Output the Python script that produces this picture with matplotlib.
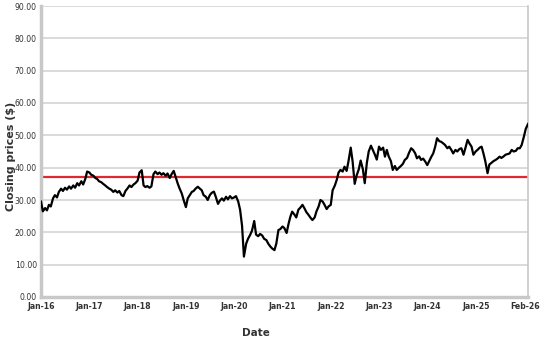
import matplotlib
matplotlib.use("Agg")
import matplotlib.pyplot as plt
from matplotlib.transforms import ScaledTranslation
import pandas as pd

# Semi-monthly closing prices (1st and 15th of each month)
y2016 = [29.5, 26.5, 27.5, 26.8, 28.5, 28.0, 30.5, 31.5, 30.8, 32.5, 33.5, 32.8,
         33.8, 33.2, 34.2, 33.5, 34.5, 33.8, 35.2, 34.5, 35.8, 34.8, 36.5, 38.8]
y2017 = [38.5, 37.8, 37.5, 36.8, 36.5, 35.8, 35.5, 35.0, 34.5, 34.0, 33.5, 33.2,
         32.5, 33.0, 32.3, 32.8, 31.5, 31.2, 32.8, 33.5, 34.5, 34.0, 34.8, 35.2]
y2018 = [36.0, 38.5, 39.2, 34.5, 34.0, 34.3, 33.8, 34.2, 38.0, 38.8, 38.0, 38.5,
         37.8, 38.3, 37.5, 38.2, 36.8, 38.0, 39.0, 37.2, 35.0, 33.5, 32.0, 30.0]
y2019 = [27.8, 30.5, 31.6, 32.5, 32.8, 33.5, 34.1, 33.6, 33.0, 31.5, 31.0, 30.0,
         31.5, 32.2, 32.6, 31.0, 28.8, 29.8, 30.5, 29.8, 31.0, 30.2, 31.2, 30.5]
y2020 = [30.8, 31.2, 29.5, 27.0, 22.0, 12.5, 16.5, 18.0, 19.2, 20.5, 23.5, 19.3,
         18.8, 19.5, 19.0, 18.0, 17.6, 16.5, 15.6, 15.0, 14.5, 16.5, 20.7, 21.0]
y2021 = [21.8, 21.3, 19.8, 22.5, 24.8, 26.4, 25.5, 24.6, 27.0, 27.6, 28.5, 27.5,
         26.2, 25.5, 24.5, 23.8, 24.6, 26.5, 28.0, 30.0, 29.5, 28.5, 27.2, 28.0]
y2022 = [28.5, 33.0, 34.5, 36.2, 38.5, 39.3, 38.8, 40.3, 39.0, 42.0, 46.2, 42.0,
         35.0, 37.5, 39.5, 42.2, 39.5, 35.2, 41.5, 45.0, 46.8, 45.5, 44.0, 42.5]
y2023 = [46.5, 45.5, 46.2, 43.4, 45.5, 43.5, 42.0, 39.3, 40.5, 39.3, 40.0, 40.5,
         41.2, 42.4, 43.0, 44.5, 46.0, 45.5, 44.5, 42.9, 43.5, 42.4, 42.8, 42.0]
y2024 = [40.8, 42.0, 43.4, 44.4, 46.5, 49.1, 48.2, 48.0, 47.5, 47.0, 46.0, 46.5,
         45.5, 44.4, 45.5, 45.0, 45.8, 46.0, 44.0, 46.0, 48.6, 47.5, 46.5, 44.0]
y2025 = [45.0, 45.5, 46.2, 46.5, 44.4, 42.0, 38.3, 41.0, 41.5, 42.0, 42.4, 42.8,
         43.4, 43.0, 43.5, 44.0, 44.2, 44.4, 45.5, 45.0, 45.2, 46.0, 46.0, 47.0]
y2026 = [49.6, 52.0, 53.5]

average_price = 37.2

tick_dates = ["2016-01-01", "2017-01-01", "2018-01-01", "2019-01-01", "2020-01-01",
              "2021-01-01", "2022-01-01", "2023-01-01", "2024-01-01", "2025-01-01",
              "2026-02-01"]
tick_labels = ["Jan-16", "Jan-17", "Jan-18", "Jan-19", "Jan-20", "Jan-21",
               "Jan-22", "Jan-23", "Jan-24", "Jan-25", "Feb-26"]
y_ticks = [0, 10, 20, 30, 40, 50, 60, 70, 80, 90]

prices = (y2016 + y2017 + y2018 + y2019 + y2020 + y2021 + y2022 + y2023
          + y2024 + y2025 + y2026)
dates = pd.date_range("2016-01-01", periods=len(prices), freq="SMS")

fig = plt.figure(figsize=(5.41, 3.44), dpi=100)
ax = fig.add_axes([41 / 541, 47 / 344, 487 / 541, 291 / 344])

ax.plot(dates, prices, color="black", lw=1.6, zorder=3)
ax.axhline(average_price, color="#dc2a2e", lw=1.6, zorder=2)

ax.set_ylim(0, 90)
ax.set_xlim(pd.Timestamp(tick_dates[0]), pd.Timestamp(tick_dates[-1]))
ax.set_yticks(y_ticks)
ax.set_yticklabels([f"{v:.2f}" for v in y_ticks])
ax.set_xticks(pd.to_datetime(tick_dates))
ax.set_xticklabels(tick_labels, fontweight="bold")

ax.grid(axis="y", color="#d4d4d4", lw=1.2, zorder=0)
ax.set_axisbelow(True)

ax.spines["top"].set_visible(False)
ax.spines["left"].set_color("#c8c8c8")
ax.spines["left"].set_linewidth(2.5)
ax.spines["bottom"].set_color("#c8c8c8")
ax.spines["bottom"].set_linewidth(2.5)
ax.spines["right"].set_color("#c8c8c8")
ax.spines["right"].set_linewidth(1.2)

ax.tick_params(axis="both", length=0, labelsize=5.6, colors="#333333")
ax.tick_params(axis="y", pad=3)
ax.tick_params(axis="x", pad=3.5)

# keep the last label hugging the right edge like the reference
last = ax.xaxis.get_major_ticks()[-1].label1
last.set_horizontalalignment("right")
last.set_transform(last.get_transform() + ScaledTranslation(12 / 100, 0, fig.dpi_scale_trans))

fig.text(11 / 541, 1 - 156 / 344, "Closing prices ($)", rotation=90,
         ha="center", va="center", fontsize=8, fontweight="bold", color="#333333")
fig.text(256 / 541, 1 - 333 / 344, "Date", ha="center", va="center",
         fontsize=7.5, fontweight="bold", color="#333333")

fig.savefig("out.png", dpi=100)
